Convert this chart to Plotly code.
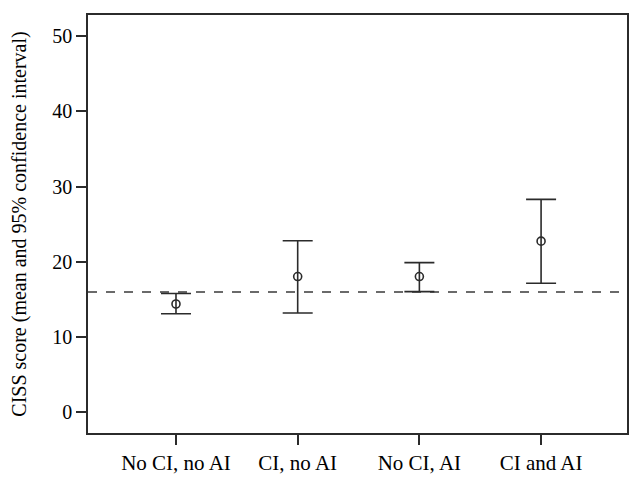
import plotly.graph_objects as go

# Group labels and values
groups = ["No CI, no AI", "CI, no AI", "No CI, AI", "CI and AI"]
means = [14.4, 18.05, 18.05, 22.75]
upper = [15.8, 22.8, 19.9, 28.3]
lower = [13.1, 13.2, 16.05, 17.15]
reference_line = 16

err_plus = [u - m for u, m in zip(upper, means)]
err_minus = [m - l for m, l in zip(means, lower)]

ink = "#2b2b2b"
font_family = "Liberation Serif, Times New Roman, serif"

fig = go.Figure()

fig.add_trace(go.Scatter(
    x=list(range(len(groups))), y=means, mode="markers",
    marker=dict(symbol="circle-open", size=8, color=ink, line=dict(width=1.6)),
    error_y=dict(type="data", symmetric=False, array=err_plus, arrayminus=err_minus,
                 color=ink, thickness=1.6, width=15),
    showlegend=False,
))

# Dashed reference line across the plot
fig.add_shape(type="line", xref="paper", x0=0, x1=1, yref="y",
              y0=reference_line, y1=reference_line,
              line=dict(color="#3a3a3a", width=1.5, dash="dash"), layer="below")

# page body adds an 8px offset, so the figure is a bit smaller than the window
fig.update_layout(
    width=635, height=476,
    margin=dict(l=80, r=16, t=5, b=51),
    paper_bgcolor="white", plot_bgcolor="white",
    font=dict(family=font_family, size=20, color="black"),
)

fig.update_xaxes(
    range=[-0.723, 3.706], tickmode="array",
    tickvals=list(range(len(groups))), ticktext=groups,
    ticks="outside", ticklen=10, tickwidth=1.5, tickcolor=ink,
    showline=True, linecolor=ink, linewidth=1.5, mirror=True,
    showgrid=False, zeroline=False, tickfont=dict(size=21),
)
fig.update_yaxes(
    range=[-2.74, 52.8], tickvals=[0, 10, 20, 30, 40, 50],
    ticks="outside", ticklen=10, tickwidth=1.5, tickcolor=ink,
    showline=True, linecolor=ink, linewidth=1.5, mirror=True,
    showgrid=False, zeroline=False, tickfont=dict(size=20),
    title=dict(text="CISS score (mean and 95% confidence interval)",
               font=dict(size=20), standoff=20),
)

fig.write_html("out.html")
